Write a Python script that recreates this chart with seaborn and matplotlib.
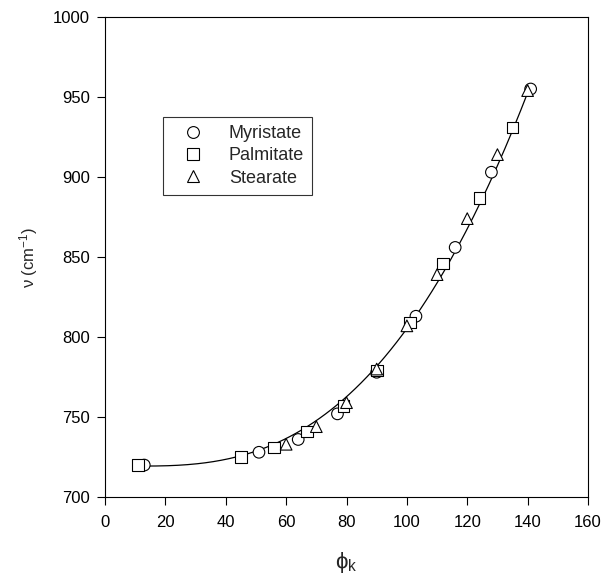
import numpy as np
import pandas as pd
import matplotlib
matplotlib.use("Agg")
import matplotlib.pyplot as plt
import seaborn as sns
from matplotlib.lines import Line2D

# Data
myr_x = [13, 51, 64, 77, 90, 103, 116, 128, 141]
myr_y = [720, 728, 736, 752, 778, 813, 856, 903, 955]
pal_x = [11, 45, 56, 67, 79, 90, 101, 112, 124, 135]
pal_y = [720, 725, 731, 741, 757, 779, 809, 846, 887, 931]
ste_x = [60, 70, 80, 90, 100, 110, 120, 130, 140]
ste_y = [733, 744, 759, 780, 807, 839, 874, 914, 954]
series = ["Myristate", "Palmitate", "Stearate"]
x_ticks = [0, 20, 40, 60, 80, 100, 120, 140, 160]
y_ticks = [700, 750, 800, 850, 900, 950, 1000]

df = pd.DataFrame({
    "phi": myr_x + pal_x + ste_x,
    "nu": myr_y + pal_y + ste_y,
    "salt": [series[0]] * len(myr_x) + [series[1]] * len(pal_x) + [series[2]] * len(ste_x),
})

# Smooth weighted least-squares fit: nu = a + b*u^n, u = phi - min(phi);
# end points weighted more so the curve runs through both ends
xs = df["phi"].to_numpy(float)
ys = df["nu"].to_numpy(float)
x0 = xs.min()
u = xs - x0
w = np.where((xs < 20) | (xs > 137), 4.0, 1.0)
best = None
for n in np.arange(1.5, 4.5, 0.01):
    A = np.column_stack([np.ones_like(u), u ** n])
    c, *_ = np.linalg.lstsq(A * w[:, None], ys * w, rcond=None)
    r = float(np.sum((w * (A @ c - ys)) ** 2))
    if best is None or r < best[0]:
        best = (r, n, c)
_, n_best, c_best = best
fx = np.linspace(xs.min(), xs.max(), 200)
fit = pd.DataFrame({"phi": fx, "nu": c_best[0] + c_best[1] * (fx - x0) ** n_best})

sns.set_theme(style="ticks")
plt.rcParams["font.family"] = ["Liberation Sans", "DejaVu Sans"]
plt.rcParams["mathtext.fontset"] = "custom"
plt.rcParams["mathtext.rm"] = "Liberation Sans"
plt.rcParams["mathtext.it"] = "Liberation Sans:italic"

fig = plt.figure(figsize=(6.05, 5.78), dpi=100)
ax = fig.add_axes([0.1736, 0.140, 0.7983, 0.8306])

sns.lineplot(data=fit, x="phi", y="nu", ax=ax, color="black", linewidth=0.9, zorder=1)
sns.scatterplot(data=df, x="phi", y="nu", style="salt", style_order=series,
                markers={"Myristate": "o", "Palmitate": "s", "Stearate": "^"},
                facecolor="white", edgecolor="black", linewidth=0.8, s=70,
                ax=ax, zorder=2, legend=False)

ax.set_xlim(0, 160)
ax.set_ylim(700, 1000)
ax.set_xticks(x_ticks)
ax.set_yticks(y_ticks)
ax.tick_params(direction="out", length=6, width=0.8, colors="black", labelsize=12,
               top=False, right=False)
ax.tick_params(axis="x", pad=7)
ax.tick_params(axis="y", pad=5)
for sp in ax.spines.values():
    sp.set_visible(True)
    sp.set_color("black")
    sp.set_linewidth(0.8)

ax.set_xlabel("ϕ$_\\mathregular{k}$", fontsize=16)
ax.set_ylabel("ν (cm$^\\mathregular{-1}$)", fontsize=12)
ax.xaxis.set_label_coords(0.5, -0.11)
ax.yaxis.set_label_coords(-0.135, 0.5)

handles = [Line2D([], [], marker=m, linestyle="none", markerfacecolor="white",
                  markeredgecolor="black", markersize=8.5, markeredgewidth=0.8)
           for m in ["o", "s", "^"]]
leg = ax.legend(handles, series, loc="upper left", bbox_to_anchor=(0.12, 0.792),
                frameon=True, fancybox=False, edgecolor="black", fontsize=13,
                handletextpad=0.8, borderpad=0.45, labelspacing=0.3,
                borderaxespad=0, handlelength=2.4)
leg.get_frame().set_linewidth(0.8)

fig.savefig("out.png", dpi=100)
